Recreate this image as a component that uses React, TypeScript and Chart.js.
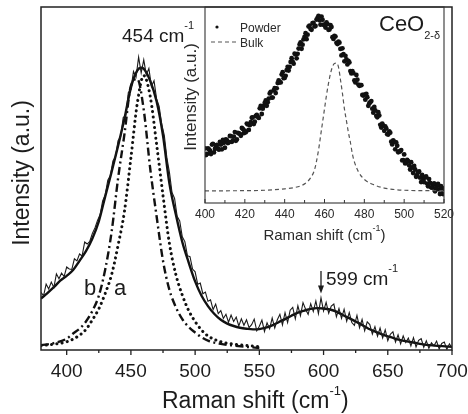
import React, { useEffect, useRef } from "react";
import { Chart, registerables } from "chart.js";
Chart.register(...registerables);

const W = 468;
const H = 414;
const FONT = "'Liberation Sans', Arial, Helvetica, sans-serif";
const INK = "#1c1c1c";

// ---------- main panel ----------
const mainTickLabels = [400, 450, 500, 550, 600, 650, 700];
const mainMinorTicks = [425, 475, 525, 575, 625, 675];

const expShift = [
  380, 382, 384, 386, 388, 390, 392, 394, 396, 398,
  400, 402, 404, 406, 408, 410, 412, 414, 416, 418,
  420, 422, 424, 426, 428, 430, 432, 434, 436, 438,
  440, 442, 444, 446, 448, 450, 452, 454, 456, 458,
  460, 462, 464, 466, 468, 470, 472, 474, 476, 478,
  480, 482, 484, 486, 488, 490, 492, 494, 496, 498,
  500, 502, 504, 506, 508, 510, 512, 514, 516, 518,
  520, 522, 524, 526, 528, 530, 532, 534, 536, 538,
  540, 542, 544, 546, 548, 550, 552, 554, 556, 558,
  560, 562, 564, 566, 568, 570, 572, 574, 576, 578,
  580, 582, 584, 586, 588, 590, 592, 594, 596, 598,
  600, 602, 604, 606, 608, 610, 612, 614, 616, 618,
  620, 622, 624, 626, 628, 630, 632, 634, 636, 638,
  640, 642, 644, 646, 648, 650, 652, 654, 656, 658,
  660, 662, 664, 666, 668, 670, 672, 674, 676, 678,
  680, 682, 684, 686, 688, 690, 692, 694, 696, 698,
  700,
];
const expIntensity = [
  16.8, 15.8, 19.2, 17.8, 19.8, 18.2, 22.2, 20.8, 22.4, 21.4,
  24.2, 23.6, 23.5, 26.6, 26.0, 28.0, 27.4, 31.5, 30.9, 31.7,
  34.0, 35.6, 37.8, 39.4, 43.5, 45.2, 49.5, 50.8, 55.1, 56.3,
  61.0, 62.2, 67.8, 68.4, 75.1, 76.0, 81.2, 79.6, 85.4, 80.8,
  84.6, 80.2, 82.1, 76.8, 78.5, 73.2, 71.0, 65.8, 62.6, 56.0,
  51.8, 45.9, 44.2, 39.0, 37.6, 33.0, 31.6, 27.5, 27.2, 23.6,
  22.8, 19.2, 19.5, 16.4, 16.9, 14.2, 14.6, 11.8, 13.4, 10.6,
  11.5, 9.2, 10.4, 8.1, 10.2, 8.3, 9.6, 7.0, 9.1, 7.2,
  8.8, 6.5, 7.4, 9.0, 5.6, 6.9, 8.7, 5.4, 7.9, 6.2,
  9.3, 6.4, 8.8, 10.4, 7.3, 10.9, 8.0, 11.6, 12.4, 9.1,
  12.9, 10.0, 13.8, 11.9, 10.4, 13.5, 11.2, 14.3, 10.6, 15.2,
  11.4, 13.9, 10.7, 12.8, 13.4, 9.7, 12.1, 9.2, 11.9, 8.4,
  10.9, 8.0, 7.2, 10.1, 6.5, 8.9, 5.6, 8.2, 7.4, 4.6,
  6.8, 4.0, 6.4, 3.5, 5.9, 2.7, 4.6, 5.3, 2.3, 4.4,
  1.8, 4.1, 2.2, 3.5, 1.2, 3.6, 0.9, 2.8, 3.3, 0.8,
  2.7, 0.5, 2.1, 1.2, 2.6, 0.3, 1.9, 2.3, 0.2, 1.8,
  0.6,
];

const fitShift = [
  380, 385, 390, 395, 400, 405, 410, 415, 420, 425, 430, 435, 440, 445, 450, 455, 458, 460,
  465, 470, 475, 480, 485, 490, 495, 500, 505, 510, 515, 520, 525, 530, 535, 540, 545, 550,
  555, 560, 565, 570, 575, 580, 585, 590, 595, 600, 605, 610, 615, 620, 625, 630, 635, 640,
  645, 650, 655, 660, 665, 670, 675, 680, 690, 700,
];
const fitIntensity = [
  15.0, 16.6, 18.3, 20.2, 21.6, 23.3, 26.0, 28.8, 32.5, 37.5, 44.8, 52.0, 59.5, 67.5, 76.5, 81.5, 82.3, 82.0,
  78.5, 72.5, 62.5, 48.5, 39.5, 31.5, 25.5, 20.0, 15.8, 12.8, 10.5, 8.8, 7.7, 7.0, 6.5, 6.2, 6.0, 6.1,
  6.5, 7.2, 8.1, 9.0, 10.0, 10.9, 11.5, 12.0, 12.2, 12.1, 11.8, 11.2, 10.2, 9.3, 8.3, 7.3, 6.2, 5.4,
  4.6, 4.0, 3.4, 2.9, 2.5, 2.2, 1.8, 1.5, 1.2, 0.9,
];

const curveAShift = [
  380, 390, 400, 410, 415, 420, 425, 430, 435, 440, 445, 450, 455, 460, 465, 470, 475, 480,
  485, 490, 495, 500, 505, 510, 520, 530, 540, 550,
];
const curveA = [
  1.3, 1.7, 2.4, 4.3, 6.0, 8.8, 12.0, 16.5, 22.0, 30.5, 40.5, 56.0, 72.0, 80.0, 74.0, 60.0, 45.0, 31.0,
  22.0, 16.0, 11.5, 8.3, 5.8, 4.1, 2.4, 1.7, 1.3, 1.0,
];

const curveBShift = [
  380, 390, 400, 405, 410, 415, 420, 425, 430, 435, 440, 445, 450, 455, 460, 465, 470, 475,
  480, 485, 490, 495, 500, 505, 510, 520, 530, 540, 550,
];
const curveB = [
  1.4, 2.0, 3.3, 4.8, 6.2, 8.3, 11.4, 15.8, 23.5, 34.5, 50.0, 63.0, 77.0, 79.0, 70.0, 53.0, 39.0, 26.0,
  17.5, 12.5, 9.0, 6.7, 5.1, 3.7, 2.7, 1.8, 1.3, 0.9, 0.6,
];

// ---------- inset panel ----------
const insetTickLabels = [400, 420, 440, 460, 480, 500, 520];
const insetMinorTicks = [410, 430, 450, 470, 490, 510];

const powderShift = [
  400, 401, 402, 403, 404, 405, 406, 407, 408, 409,
  410, 411, 412, 413, 414, 415, 416, 417, 418, 419,
  420, 421, 422, 423, 424, 425, 426, 427, 428, 429,
  430, 431, 432, 433, 434, 435, 436, 437, 438, 439,
  440, 441, 442, 443, 444, 445, 446, 447, 448, 449,
  450, 451, 452, 453, 454, 455, 456, 457, 458, 459,
  460, 461, 462, 463, 464, 465, 466, 467, 468, 469,
  470, 471, 472, 473, 474, 475, 476, 477, 478, 479,
  480, 481, 482, 483, 484, 485, 486, 487, 488, 489,
  490, 491, 492, 493, 494, 495, 496, 497, 498, 499,
  500, 501, 502, 503, 504, 505, 506, 507, 508, 509,
  510, 511, 512, 513, 514, 515, 516, 517, 518, 519,
  520,
];
const powderIntensity = [
  27.9, 25.0, 27.4, 25.0, 30.1, 27.6, 29.7, 27.2, 29.8, 32.2,
  28.2, 32.1, 31.0, 34.1, 32.0, 36.2, 32.4, 35.5, 34.3, 37.8,
  36.9, 40.5, 37.3, 41.3, 43.7, 41.5, 44.9, 43.4, 49.6, 48.1,
  51.1, 49.6, 53.3, 56.7, 53.8, 58.6, 58.5, 62.6, 61.5, 66.7,
  63.8, 67.8, 67.6, 72.0, 72.1, 76.2, 73.8, 78.8, 82.0, 80.8,
  84.8, 83.6, 90.0, 88.8, 91.8, 90.1, 93.6, 95.5, 91.0, 93.5,
  91.0, 92.2, 88.4, 90.8, 84.6, 85.3, 81.7, 82.3, 78.6, 78.9,
  72.3, 73.3, 72.5, 67.3, 67.3, 62.5, 65.3, 60.4, 60.1, 55.1,
  55.3, 55.7, 49.6, 51.4, 48.1, 49.0, 44.5, 46.3, 39.9, 40.5,
  36.8, 38.1, 34.9, 35.9, 29.9, 31.3, 30.9, 25.9, 26.3, 21.7,
  24.8, 20.8, 21.3, 17.1, 18.1, 18.9, 13.4, 15.7, 12.9, 14.3,
  10.6, 13.6, 8.5, 10.3, 7.8, 10.0, 7.8, 9.7, 4.6, 6.9,
  7.5,
];

// second pass of powder readings, between the first ones
const powderShiftB = [
  400.5, 401.5, 402.5, 403.5, 404.5, 405.5, 406.5, 407.5, 408.5, 409.5,
  410.5, 411.5, 412.5, 413.5, 414.5, 415.5, 416.5, 417.5, 418.5, 419.5,
  420.5, 421.5, 422.5, 423.5, 424.5, 425.5, 426.5, 427.5, 428.5, 429.5,
  430.5, 431.5, 432.5, 433.5, 434.5, 435.5, 436.5, 437.5, 438.5, 439.5,
  440.5, 441.5, 442.5, 443.5, 444.5, 445.5, 446.5, 447.5, 448.5, 449.5,
  450.5, 451.5, 452.5, 453.5, 454.5, 455.5, 456.5, 457.5, 458.5, 459.5,
  460.5, 461.5, 462.5, 463.5, 464.5, 465.5, 466.5, 467.5, 468.5, 469.5,
  470.5, 471.5, 472.5, 473.5, 474.5, 475.5, 476.5, 477.5, 478.5, 479.5,
  480.5, 481.5, 482.5, 483.5, 484.5, 485.5, 486.5, 487.5, 488.5, 489.5,
  490.5, 491.5, 492.5, 493.5, 494.5, 495.5, 496.5, 497.5, 498.5, 499.5,
  500.5, 501.5, 502.5, 503.5, 504.5, 505.5, 506.5, 507.5, 508.5, 509.5,
  510.5, 511.5, 512.5, 513.5, 514.5, 515.5, 516.5, 517.5, 518.5, 519.5,
];
const powderIntensityB = [
  24.5, 27.8, 26.7, 29.8, 25.8, 29.2, 27.9, 31.2, 27.4, 30.7,
  32.4, 30.6, 34.2, 31.2, 33.9, 31.7, 35.8, 35.3, 38.3, 35.6,
  36.1, 40.1, 39.7, 43.5, 40.3, 44.4, 44.0, 48.3, 45.4, 49.6,
  52.3, 51.4, 55.9, 53.8, 57.5, 56.1, 61.2, 61.6, 65.5, 63.7,
  64.9, 69.5, 69.5, 73.9, 71.1, 75.8, 76.1, 80.9, 78.7, 83.5,
  86.6, 85.9, 90.5, 88.4, 91.9, 90.3, 94.4, 93.2, 95.1, 90.9,
  89.5, 91.3, 88.5, 89.8, 83.7, 84.9, 81.1, 81.8, 75.3, 75.9,
  75.1, 70.7, 71.7, 66.1, 66.3, 61.5, 62.9, 59.8, 60.1, 54.8,
  52.7, 54.0, 50.9, 52.0, 46.1, 47.3, 43.7, 44.7, 38.5, 39.5,
  39.1, 35.1, 36.5, 31.3, 31.9, 27.4, 29.2, 26.3, 27.0, 21.9,
  20.2, 22.0, 19.2, 20.8, 15.3, 17.1, 14.3, 16.1, 10.7, 12.5,
  12.9, 9.9, 12.2, 8.0, 9.5, 6.0, 8.8, 7.0, 8.6, 4.6,
];

const bulkShift = [
  400, 420, 430, 440, 445, 448, 451, 453, 455, 457, 458, 459, 460, 461, 462, 463, 464, 465,
  466, 467, 468, 469, 470, 471, 472, 473, 474, 475, 477, 480, 485, 490, 495, 500, 510, 520,
];
const bulkIntensity = [
  6.2, 6.3, 6.5, 7.2, 7.9, 8.7, 10.5, 12.8, 17.0, 27.0, 34.0, 41.0, 48.0, 55.0, 61.0, 66.0, 69.5, 71.2,
  71.4, 69.5, 63.0, 56.0, 48.0, 42.0, 36.0, 31.0, 25.0, 21.0, 16.0, 12.0, 9.2, 7.6, 6.9, 6.5, 6.3, 6.3,
];

type Run = { t: string; size: number; dy: number };

function drawRuns(ctx: CanvasRenderingContext2D, x: number, y: number, runs: Run[], align: "left" | "center") {
  let total = 0;
  for (const r of runs) {
    ctx.font = `${r.size}px ${FONT}`;
    total += ctx.measureText(r.t).width;
  }
  let cx = align === "center" ? x - total / 2 : x;
  ctx.textAlign = "left";
  ctx.textBaseline = "alphabetic";
  for (const r of runs) {
    ctx.font = `${r.size}px ${FONT}`;
    ctx.fillText(r.t, cx, y + r.dy);
    cx += ctx.measureText(r.t).width;
  }
}

function pts(xs: number[], ys: number[]) {
  return xs.map((x, i) => ({ x, y: ys[i] }));
}

const mainDecor = {
  id: "mainDecor",
  afterDatasetsDraw(chart: any) {
    const { ctx, chartArea: a, scales } = chart;
    const x = scales.x;
    ctx.save();
    ctx.strokeStyle = "#222";
    ctx.lineWidth = 1.5;
    ctx.strokeRect(a.left, a.top, a.right - a.left, a.bottom - a.top);
    ctx.lineWidth = 1.3;
    ctx.beginPath();
    for (const t of mainTickLabels) {
      const px = x.getPixelForValue(t);
      ctx.moveTo(px, a.bottom);
      ctx.lineTo(px, a.bottom + 5);
    }
    for (const t of mainMinorTicks) {
      const px = x.getPixelForValue(t);
      ctx.moveTo(px, a.bottom);
      ctx.lineTo(px, a.bottom + 3);
    }
    ctx.stroke();

    ctx.fillStyle = INK;
    ctx.font = `19px ${FONT}`;
    ctx.textAlign = "center";
    ctx.textBaseline = "alphabetic";
    for (const t of mainTickLabels) ctx.fillText(String(t), x.getPixelForValue(t), 377);

    drawRuns(ctx, 162, 408, [
      { t: "Raman shift (cm", size: 23, dy: 0 },
      { t: "-1", size: 13, dy: -13 },
      { t: ")", size: 23, dy: 0 },
    ], "left");

    ctx.save();
    ctx.translate(29, 173);
    ctx.rotate(-Math.PI / 2);
    ctx.font = `23px ${FONT}`;
    ctx.textAlign = "center";
    ctx.textBaseline = "alphabetic";
    ctx.fillText("Intensity (a.u.)", 0, 0);
    ctx.restore();

    drawRuns(ctx, 122, 42, [
      { t: "454 cm", size: 19, dy: 0 },
      { t: "-1", size: 11, dy: -13 },
    ], "left");
    drawRuns(ctx, 326, 285, [
      { t: "599 cm", size: 19, dy: 0 },
      { t: "-1", size: 11, dy: -13 },
    ], "left");

    // arrow at 599
    const ax = x.getPixelForValue(598);
    ctx.strokeStyle = INK;
    ctx.lineWidth = 1.3;
    ctx.beginPath();
    ctx.moveTo(ax, 271);
    ctx.lineTo(ax, 287);
    ctx.stroke();
    ctx.fillStyle = INK;
    ctx.beginPath();
    ctx.moveTo(ax - 3, 285.5);
    ctx.lineTo(ax + 3, 285.5);
    ctx.lineTo(ax, 293.5);
    ctx.closePath();
    ctx.fill();

    ctx.font = `22px ${FONT}`;
    ctx.textAlign = "left";
    ctx.fillText("b", 84, 295);
    ctx.fillText("a", 114, 295);
    ctx.restore();
  },
};

const insetDecor = {
  id: "insetDecor",
  afterDatasetsDraw(chart: any) {
    const { ctx, chartArea: a, scales } = chart;
    const x = scales.x;
    ctx.save();
    ctx.strokeStyle = "#333";
    ctx.lineWidth = 1.1;
    ctx.strokeRect(a.left, a.top, a.right - a.left, a.bottom - a.top);
    ctx.lineWidth = 1;
    ctx.beginPath();
    for (const t of insetTickLabels) {
      const px = x.getPixelForValue(t);
      ctx.moveTo(px, a.bottom);
      ctx.lineTo(px, a.bottom - 4);
    }
    for (const t of insetMinorTicks) {
      const px = x.getPixelForValue(t);
      ctx.moveTo(px, a.bottom);
      ctx.lineTo(px, a.bottom - 3);
    }
    ctx.stroke();

    ctx.fillStyle = "#2a2a2a";
    ctx.font = `12px ${FONT}`;
    ctx.textAlign = "center";
    ctx.textBaseline = "alphabetic";
    for (const t of insetTickLabels) ctx.fillText(String(t), x.getPixelForValue(t), 218);

    drawRuns(ctx, (a.left + a.right) / 2, 240, [
      { t: "Raman shift (cm", size: 15, dy: 0 },
      { t: "-1", size: 9, dy: -9 },
      { t: ")", size: 15, dy: 0 },
    ], "center");

    ctx.save();
    ctx.translate(196, 97);
    ctx.rotate(-Math.PI / 2);
    ctx.font = `17px ${FONT}`;
    ctx.textAlign = "center";
    ctx.fillText("Intensity (a.u.)", 0, 0);
    ctx.restore();

    // legend
    ctx.fillStyle = "#111";
    ctx.beginPath();
    ctx.arc(217, 27, 1.6, 0, Math.PI * 2);
    ctx.fill();
    ctx.fillStyle = "#2a2a2a";
    ctx.font = `12px ${FONT}`;
    ctx.textAlign = "left";
    ctx.fillText("Powder", 240, 31.5);
    ctx.fillText("Bulk", 240, 46.5);
    ctx.strokeStyle = "#555";
    ctx.lineWidth = 1.2;
    ctx.setLineDash([4, 3]);
    ctx.beginPath();
    ctx.moveTo(211, 42);
    ctx.lineTo(238, 42);
    ctx.stroke();
    ctx.setLineDash([]);

    ctx.fillStyle = INK;
    drawRuns(ctx, 379, 31, [
      { t: "CeO", size: 22, dy: 0 },
      { t: "2-\u03b4", size: 11, dy: 8 },
    ], "left");
    ctx.restore();
  },
};

export default function App() {
  const mainRef = useRef<HTMLCanvasElement>(null);
  const insetRef = useRef<HTMLCanvasElement>(null);

  useEffect(() => {
    const main = new Chart(mainRef.current as HTMLCanvasElement, {
      type: "line",
      data: {
        datasets: [
          {
            data: pts(expShift, expIntensity),
            borderColor: "#1a1a1a",
            borderWidth: 1.1,
            pointRadius: 0,
            tension: 0,
          },
          {
            data: pts(fitShift, fitIntensity),
            borderColor: "#111",
            borderWidth: 2.4,
            pointRadius: 0,
            cubicInterpolationMode: "monotone",
          },
          {
            data: pts(curveAShift, curveA),
            borderColor: "#111",
            borderWidth: 3,
            borderDash: [0.1, 5.2],
            borderCapStyle: "round",
            pointRadius: 0,
            cubicInterpolationMode: "monotone",
          },
          {
            data: pts(curveBShift, curveB),
            borderColor: "#111",
            borderWidth: 2.4,
            borderDash: [8, 3.5, 2, 3.5],
            pointRadius: 0,
            cubicInterpolationMode: "monotone",
          },
        ],
      } as any,
      options: {
        animation: false,
        responsive: false,
        devicePixelRatio: 1,
        parsing: false as any,
        normalized: true,
        layout: { padding: { left: 41, right: W - 452, top: 7, bottom: H - 350 } },
        plugins: { legend: { display: false }, tooltip: { enabled: false }, title: { display: false } },
        events: [],
        scales: {
          x: { type: "linear", min: 380, max: 700, display: false },
          y: { type: "linear", min: 0, max: 100, display: false },
        },
      },
      plugins: [mainDecor],
    });

    const inset = new Chart(insetRef.current as HTMLCanvasElement, {
      type: "line",
      data: {
        datasets: [
          {
            data: pts(bulkShift, bulkIntensity),
            borderColor: "#555",
            borderWidth: 1.2,
            borderDash: [4, 3],
            pointRadius: 0,
            cubicInterpolationMode: "monotone",
          },
          {
            data: pts(powderShift, powderIntensity),
            showLine: false,
            pointRadius: 2.4,
            pointBorderWidth: 0,
            pointBackgroundColor: "#111",
            borderColor: "#111",
          },
          {
            data: pts(powderShiftB, powderIntensityB),
            showLine: false,
            pointRadius: 2.4,
            pointBorderWidth: 0,
            pointBackgroundColor: "#111",
            borderColor: "#111",
          },
        ],
      } as any,
      options: {
        animation: false,
        responsive: false,
        devicePixelRatio: 1,
        parsing: false as any,
        layout: { padding: { left: 205, right: W - 444, top: 7, bottom: H - 203 } },
        plugins: { legend: { display: false }, tooltip: { enabled: false }, title: { display: false } },
        events: [],
        scales: {
          x: { type: "linear", min: 400, max: 520, display: false },
          y: { type: "linear", min: 0, max: 100, display: false },
        },
      },
      plugins: [insetDecor],
    });

    return () => {
      main.destroy();
      inset.destroy();
    };
  }, []);

  return (
    <div style={{ position: "fixed", left: 0, top: 0, width: W, height: H, background: "#fff" }}>
      <canvas
        ref={mainRef}
        width={W}
        height={H}
        style={{ position: "absolute", left: 0, top: 0, width: W, height: H }}
      />
      <canvas
        ref={insetRef}
        width={W}
        height={H}
        style={{ position: "absolute", left: 0, top: 0, width: W, height: H }}
      />
    </div>
  );
}
